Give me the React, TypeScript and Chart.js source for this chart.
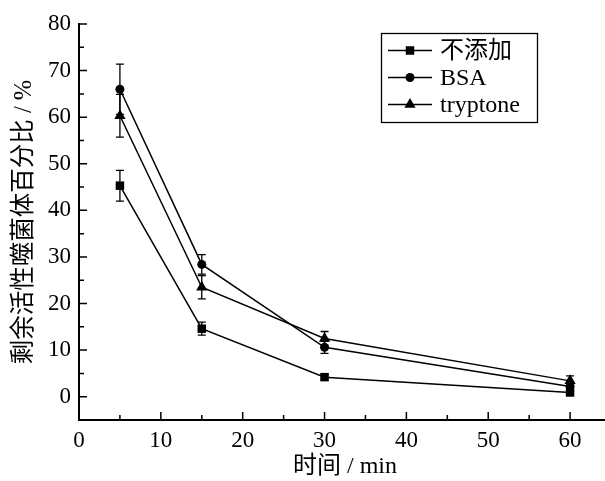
import React, { useEffect, useRef } from "react";
import { Chart, registerables } from "chart.js";

Chart.register(...registerables);

const times = [5, 15, 30, 60];
const seriesNames = ["不添加", "BSA", "tryptone"];
const noneValues = [45.3, 14.6, 4.2, 0.9];
const noneErrors = [3.3, 1.4, 0.6, 0.5];
const bsaValues = [66.0, 28.4, 10.6, 2.2];
const bsaErrors = [5.4, 2.1, 1.3, 1.0];
const tryptoneValues = [60.3, 23.5, 12.5, 3.4];
const tryptoneErrors = [4.6, 2.5, 1.5, 1.05];
const pointStyles = ["rect", "circle", "triangle"];
const pointRadii = [6, 4.5, 6.5];

const xMajorTicks = [0, 10, 20, 30, 40, 50, 60];
const xMinorTicks = [5, 15, 25, 35, 45, 55, 65];
const yMajorTicks = [0, 10, 20, 30, 40, 50, 60, 70, 80];
const yMinorTicks = [-5, 5, 15, 25, 35, 45, 55, 65, 75];

const xTitle = "时间 / min";
const yTitle = "剩余活性噬菌体百分比 / %";

const FONT = '"Liberation Serif", "Noto Sans CJK SC", serif';

const allValues = [noneValues, bsaValues, tryptoneValues];
const allErrors = [noneErrors, bsaErrors, tryptoneErrors];

function drawMarker(ctx: CanvasRenderingContext2D, style: string, x: number, y: number, r: number) {
  ctx.beginPath();
  if (style === "rect") {
    const s = Math.SQRT1_2 * r;
    ctx.rect(x - s, y - s, 2 * s, 2 * s);
  } else if (style === "circle") {
    ctx.arc(x, y, r, 0, Math.PI * 2);
  } else {
    const w = r * Math.sin(Math.PI / 3);
    ctx.moveTo(x, y - r);
    ctx.lineTo(x + w, y + r / 2);
    ctx.lineTo(x - w, y + r / 2);
    ctx.closePath();
  }
  ctx.fillStyle = "#000";
  ctx.fill();
}

const errorBarPlugin = {
  id: "errorBars",
  afterDatasetsDraw(chart: any) {
    const ctx = chart.ctx as CanvasRenderingContext2D;
    const xs = chart.scales.x;
    const ys = chart.scales.y;
    ctx.save();
    ctx.strokeStyle = "#000";
    ctx.lineWidth = 1.3;
    allValues.forEach((vals, si) => {
      vals.forEach((v, i) => {
        const e = allErrors[si][i];
        const px = xs.getPixelForValue(times[i]);
        const top = ys.getPixelForValue(v + e);
        const bot = ys.getPixelForValue(v - e);
        ctx.beginPath();
        ctx.moveTo(px, top);
        ctx.lineTo(px, bot);
        ctx.moveTo(px - 4, top);
        ctx.lineTo(px + 4, top);
        ctx.moveTo(px - 4, bot);
        ctx.lineTo(px + 4, bot);
        ctx.stroke();
      });
    });
    ctx.restore();
  },
};

const axisTicksPlugin = {
  id: "axisTicks",
  afterDraw(chart: any) {
    const ctx = chart.ctx as CanvasRenderingContext2D;
    const xs = chart.scales.x;
    const ys = chart.scales.y;
    const area = chart.chartArea;
    ctx.save();
    ctx.strokeStyle = "#000";
    ctx.lineWidth = 1.5;
    ctx.beginPath();
    xMajorTicks.forEach((v) => {
      const p = xs.getPixelForValue(v);
      ctx.moveTo(p, area.bottom);
      ctx.lineTo(p, area.bottom - 8);
    });
    xMinorTicks.forEach((v) => {
      const p = xs.getPixelForValue(v);
      ctx.moveTo(p, area.bottom);
      ctx.lineTo(p, area.bottom - 5);
    });
    yMajorTicks.forEach((v) => {
      const p = ys.getPixelForValue(v);
      ctx.moveTo(area.left, p);
      ctx.lineTo(area.left + 8, p);
    });
    yMinorTicks.forEach((v) => {
      const p = ys.getPixelForValue(v);
      ctx.moveTo(area.left, p);
      ctx.lineTo(area.left + 5, p);
    });
    ctx.stroke();
    ctx.restore();
  },
};

const legendPlugin = {
  id: "boxLegend",
  afterDraw(chart: any) {
    const ctx = chart.ctx as CanvasRenderingContext2D;
    ctx.save();
    ctx.strokeStyle = "#000";
    ctx.lineWidth = 1.3;
    ctx.strokeRect(381.5, 33.5, 156, 89);
    const rows = [50.5, 77.5, 104.5];
    ctx.font = `24px ${FONT}`;
    ctx.textBaseline = "middle";
    ctx.textAlign = "left";
    seriesNames.forEach((name, i) => {
      const y = rows[i];
      ctx.beginPath();
      ctx.lineWidth = 1.5;
      ctx.moveTo(388, y);
      ctx.lineTo(432, y);
      ctx.stroke();
      drawMarker(ctx, pointStyles[i], 410, y, pointRadii[i]);
      ctx.fillStyle = "#000";
      ctx.fillText(name, 440, y + 1);
    });
    ctx.restore();
  },
};

export default function App() {
  const canvasRef = useRef<HTMLCanvasElement | null>(null);

  useEffect(() => {
    if (!canvasRef.current) return;
    const datasets = allValues.map((vals, si) => ({
      label: seriesNames[si],
      data: vals.map((v, i) => ({ x: times[i], y: v })),
      borderColor: "#000",
      backgroundColor: "#000",
      borderWidth: 1.5,
      pointStyle: pointStyles[si] as any,
      pointRadius: pointRadii[si],
      pointBorderWidth: 0,
      pointBackgroundColor: "#000",
      tension: 0,
      fill: false,
    }));

    const chart = new Chart(canvasRef.current, {
      type: "line",
      data: { datasets },
      options: {
        animation: false,
        responsive: false,
        maintainAspectRatio: false,
        devicePixelRatio: 1,
        layout: { padding: { left: 0, top: 24, right: 9, bottom: 0 } },
        plugins: {
          legend: { display: false },
          tooltip: { enabled: false },
        },
        scales: {
          x: {
            type: "linear",
            min: 0,
            max: 65,
            afterBuildTicks: (s: any) => {
              s.ticks = xMajorTicks.map((v) => ({ value: v }));
            },
            afterFit: (s: any) => {
              s.height = 61;
            },
            grid: { display: false, drawTicks: false },
            border: { display: true, color: "#000", width: 2 },
            ticks: {
              color: "#000",
              padding: 7,
              font: { family: FONT, size: 23 },
              maxRotation: 0,
            },
            title: {
              display: true,
              text: xTitle,
              color: "#000",
              font: { family: FONT, size: 24 },
              padding: { top: 0, bottom: 0 },
            },
          },
          y: {
            type: "linear",
            min: -5,
            max: 80,
            afterBuildTicks: (s: any) => {
              s.ticks = yMajorTicks.map((v) => ({ value: v }));
            },
            afterFit: (s: any) => {
              s.width = 79;
            },
            grid: { display: false, drawTicks: false },
            border: { display: true, color: "#000", width: 2 },
            ticks: {
              color: "#000",
              padding: 8,
              font: { family: FONT, size: 23 },
            },
            title: {
              display: true,
              text: yTitle,
              color: "#000",
              font: { family: FONT, size: 24.5 },
              padding: { top: 10, bottom: 0 },
            },
          },
        },
      },
      plugins: [errorBarPlugin, axisTicksPlugin, legendPlugin],
    });
    return () => chart.destroy();
  }, []);

  return (
    <div
      style={{
        position: "absolute",
        left: 0,
        top: 0,
        width: 605,
        height: 481,
        overflow: "hidden",
        background: "#fff",
      }}
    >
      <canvas ref={canvasRef} width={620} height={481} style={{ width: 620, height: 481 }} />
    </div>
  );
}
